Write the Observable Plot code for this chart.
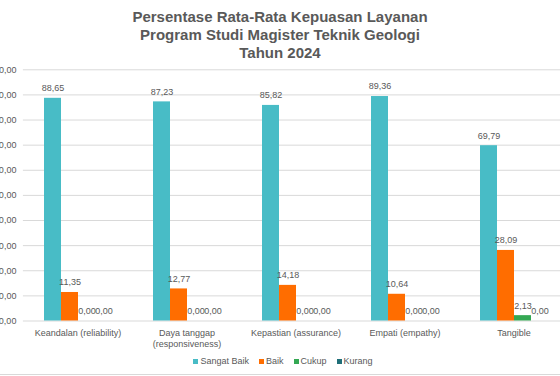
<!DOCTYPE html>
<html>
<head>
<meta charset="utf-8">
<script src="https://cdn.jsdelivr.net/npm/d3@7"></script>
<script src="https://cdn.jsdelivr.net/npm/@observablehq/plot@0.6"></script>
<style>
  html, body { margin: 0; padding: 0; background: #fff; overflow: hidden; }
  #wrap { position: relative; width: 560px; height: 376px; overflow: hidden; font-family: "Liberation Sans", Arial, sans-serif; color: #595959; }
  #wrap svg { position: absolute; left: 0; top: 0; overflow: hidden; }
  #title { position: absolute; left: 0; top: 8px; width: 560px; text-align: center; font-weight: bold; font-size: 15px; line-height: 18.2px; color: #595959; }
  #legend { position: absolute; left: 3px; width: 560px; top: 355px; display: flex; justify-content: center; gap: 10px; font-size: 9px; line-height: 12px; color: #595959; }
  #legend span.item { display: flex; align-items: center; gap: 2px; }
  #legend span.sw { display: inline-block; width: 5px; height: 5px; }
  .hline { position: absolute; left: 0; width: 560px; height: 1px; background: #d9d9d9; }
</style>
</head>
<body>
<div id="wrap">
  <div class="hline" style="top:0"></div>
  <div id="base"></div>
  <div id="bars"></div>
  <div id="title">Persentase Rata-Rata Kepuasan Layanan<br>Program Studi Magister Teknik Geologi<br>Tahun 2024</div>
  <div id="legend"></div>
  <div class="hline" style="top:374px"></div>
</div>
<script>
const categories = ["Keandalan (reliability)", "Daya tanggap (responsiveness)", "Kepastian (assurance)", "Empati (empathy)", "Tangible"];
const categoryLabels = ["Keandalan (reliability)", "Daya tanggap\n(responsiveness)", "Kepastian (assurance)", "Empati (empathy)", "Tangible"];
const series = ["Sangat Baik", "Baik", "Cukup", "Kurang"];
const sangatBaik = [88.65, 87.23, 85.82, 89.36, 69.79];
const baik = [11.35, 12.77, 14.18, 10.64, 28.09];
const cukup = [0, 0, 0, 0, 2.13];
const kurang = [0, 0, 0, 0, 0];
const yTicks = [0, 10, 20, 30, 40, 50, 60, 70, 80, 90, 100];
const colors = ["#48BCC6", "#FF6D00", "#34A853", "#1F6E78"];

const fmt = v => v.toFixed(2).replace(".", ",");
const seriesValues = [sangatBaik, baik, cukup, kurang];
const table = [];
categories.forEach((c, i) => series.forEach((s, j) => table.push({category: c, series: s, value: seriesValues[j][i]})));

const W = 560, H = 376, MT = 69.3, MB = 55.5;
const xRange = [22.9, 568.5];
const font = {fontFamily: "'Liberation Sans', Arial, sans-serif", fontSize: "9px", color: "#595959", background: "none", overflow: "hidden"};

// Base layer: gridlines, y axis, category labels
const base = Plot.plot({
  width: W, height: H,
  marginTop: MT, marginBottom: MB, marginLeft: xRange[0], marginRight: 0,
  style: {...font, background: "white"},
  x: {type: "band", domain: categories, range: xRange, padding: 0, axis: null},
  y: {domain: [0, 100], ticks: yTicks, tickFormat: fmt, tickSize: 0, tickPadding: 7, label: null},
  marks: [
    Plot.ruleY(yTicks, {y: d => d, stroke: "#d9d9d9", strokeWidth: 1}),
    Plot.text(categories, {x: d => d, text: (d, i) => categoryLabels[i], frameAnchor: "bottom", lineAnchor: "top", dy: 7, lineHeight: 1.22, fill: "#595959", fontSize: 9})
  ]
});
document.getElementById("base").appendChild(base);

// Bar layer: grouped bars via facets
const bars = Plot.plot({
  width: W, height: H,
  marginTop: MT, marginBottom: MB, marginLeft: 0, marginRight: 0,
  style: font,
  facet: {data: table, x: "category", marginTop: 0, marginBottom: 0, marginLeft: 0, marginRight: 0},
  fx: {domain: categories, range: xRange, paddingInner: 0.3626, paddingOuter: 0.1813, axis: null, label: null},
  x: {domain: series, padding: 0, axis: null},
  y: {domain: [0, 100], axis: null},
  color: {domain: series, range: colors},
  marks: [
    Plot.barY(table, {x: "series", y: "value", fill: "series"}),
    Plot.text(table, {x: "series", y: "value", text: d => fmt(d.value), dy: -10, fill: "#595959", fontSize: 9})
  ]
});
document.getElementById("bars").appendChild(bars);

// Legend
const legend = document.getElementById("legend");
series.forEach((s, i) => {
  const item = document.createElement("span");
  item.className = "item";
  const sw = document.createElement("span");
  sw.className = "sw";
  sw.style.background = colors[i];
  const t = document.createElement("span");
  t.textContent = s;
  item.appendChild(sw); item.appendChild(t);
  legend.appendChild(item);
});
</script>
</body>
</html>
